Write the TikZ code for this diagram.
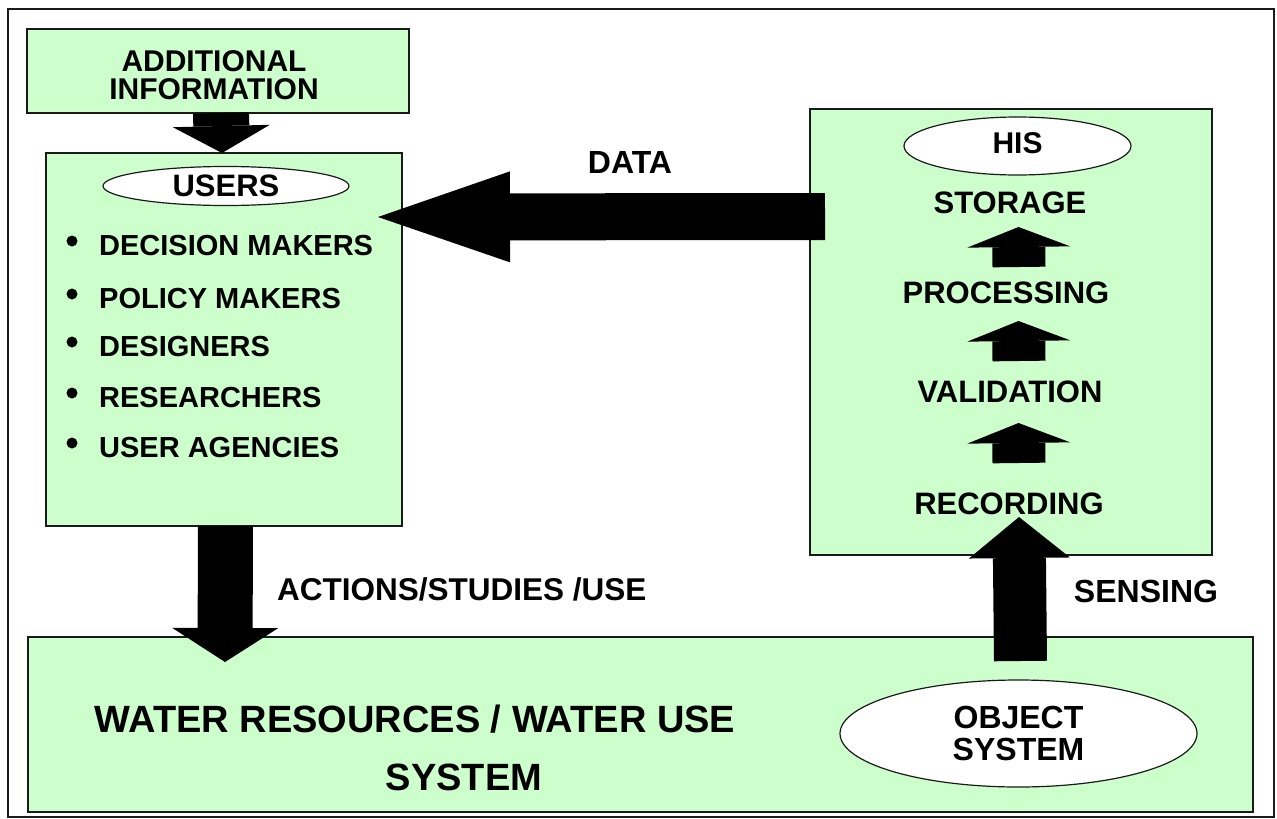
\documentclass[tikz,border=0pt]{standalone}
\usepackage{fontspec}
\setmainfont{Liberation Sans}
\usetikzlibrary{arrows.meta,shapes.geometric}
\definecolor{boxgreen}{HTML}{CCFFCC}
\definecolor{edgegray}{HTML}{1A1A1A}
\begin{document}
\begin{tikzpicture}[x=1pt,y=-1pt,
  box/.style={draw=edgegray, line width=1.5pt, fill=boxgreen, rectangle, inner sep=0pt},
  oval/.style={draw=edgegray, line width=1.2pt, fill=white, ellipse, inner sep=0pt},
  lbl/.style={font=\fontsize{#1}{#1}\selectfont\bfseries, inner sep=0pt},
  lbl/.default=31,
  item/.style={font=\fontsize{29}{29}\selectfont\bfseries, inner sep=0pt, anchor=west},
  blockarrow/.style n args={3}{draw=black, line width=#1,
     -{Triangle[width=#2,length=#3,line width=0pt]}},
  dot/.style={fill=black}
]
\useasboundingbox (0,0) rectangle (1277,819);
% outer frame
\draw[line width=1.5pt, draw=edgegray] (8,9) rectangle (1274,817);

% boxes
\node[box, minimum width=382pt, minimum height=84pt] (addinfo) at (218,71) {};
\node[box, minimum width=356pt, minimum height=373pt] (users) at (224,339.5) {};
\node[box, minimum width=402pt, minimum height=446pt] (his) at (1011,332) {};
\node[box, minimum width=1225pt, minimum height=175pt] (water) at (640.5,724.5) {};

% additional information text
\node[align=center, inner sep=0pt, font=\fontsize{30}{27.5}\selectfont\bfseries] (addtxt) at (214,75) {ADDITIONAL\\INFORMATION};

% users
\node[oval, minimum width=246pt, minimum height=39pt, lbl=31] (usersov) at (226,186) {\raisebox{-3pt}{USERS}};
\node[item] (i1) at (99,246) {DECISION MAKERS};
\node[item] (i2) at (99,299) {POLICY MAKERS};
\node[item] (i3) at (99,347) {DESIGNERS};
\node[item] (i4) at (99,398) {RESEARCHERS};
\node[item] (i5) at (99,448) {USER AGENCIES};
\foreach \n in {i1,i2,i3,i4,i5}{
  \fill[dot] ([xshift=-27pt,yshift=5pt]\n.west) circle (5.5pt);
}

% HIS
\node[oval, minimum width=227pt, minimum height=58pt, lbl=30] (hisov) at (1017.5,146) {\raisebox{6pt}{HIS}};
\node[lbl] (storage) at (1010,203) {STORAGE};
\node[lbl] (processing) at (1006,293) {PROCESSING};
\node[lbl] (validation) at (1010,392) {VALIDATION};
\node[lbl] (recording) at (1009,503.5) {RECORDING};

% water system
\node[lbl=38] (wtr1) at (415,719) {WATER RESOURCES / WATER USE};
\node[lbl=38] (wtr2) at (464,777) {SYSTEM};
\node[oval, minimum width=357pt, minimum height=107pt, align=center,
      font=\fontsize{32}{32}\selectfont\bfseries] (object) at (1018.5,733.5) {OBJECT\\SYSTEM};

% labels
\node[lbl=32] (datalbl) at (630,162) {DATA};
\node[lbl=31.5, anchor=west] (actlbl) at (277,589) {ACTIONS/STUDIES /USE};
\node[lbl=32] (senslbl) at (1146,591) {SENSING};

% arrow end points
\coordinate (a1s) at (221,113);
\coordinate (a1e) at (222,153);
\coordinate (a2s) at (225.5,526);
\coordinate (a2e) at (225,662);
\coordinate (dS) at (825,216.5);
\coordinate (dE) at (378,217);
\coordinate (sS) at (1020.5,661);
\coordinate (sE) at (1019,517);
\coordinate (p1s) at (1019,267);
\coordinate (p1e) at (1018.5,227);
\coordinate (p2s) at (1019,361);
\coordinate (p2e) at (1018.5,321);
\coordinate (p3s) at (1019,463);
\coordinate (p3e) at (1018.5,423);

% block arrows
\draw[blockarrow={56pt}{97pt}{27pt}] (a1s) -- (a1e);
\draw[blockarrow={55pt}{106pt}{34pt}] (a2s) -- (a2e);
\draw[blockarrow={47pt}{91pt}{132pt}] (dS) -- (dE);
\draw[blockarrow={53pt}{101pt}{41pt}] (sS) -- (sE);
\draw[blockarrow={53pt}{103pt}{20pt}] (p1s) -- (p1e);
\draw[blockarrow={53pt}{103pt}{20pt}] (p2s) -- (p2e);
\draw[blockarrow={53pt}{103pt}{20pt}] (p3s) -- (p3e);
\end{tikzpicture}
\end{document}
